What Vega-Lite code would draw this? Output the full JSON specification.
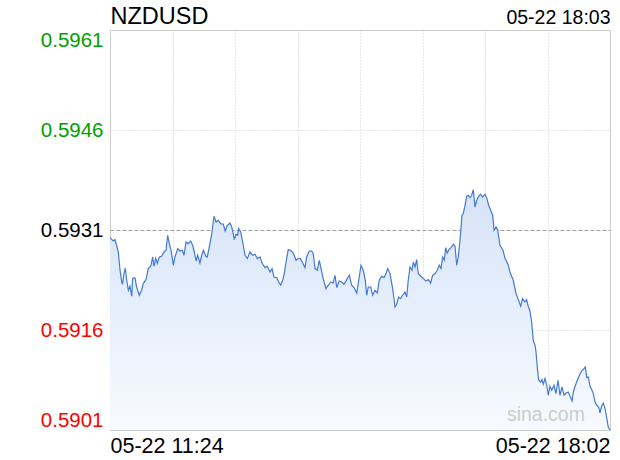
{
  "$schema": "https://vega.github.io/schema/vega-lite/v6.json",
  "width": 500,
  "height": 400,
  "autosize": "none",
  "padding": {"left": 110, "top": 30, "right": 10, "bottom": 30},
  "background": "white",
  "config": {
    "font": "Liberation Sans",
    "view": {"stroke": "#cccccc", "strokeWidth": 1}
  },
  "data": {
    "values": [
      {"t": 0, "p": 0.592986}, {"t": 2.6, "p": 0.592935}, {"t": 3.9, "p": 0.592956}, {"t": 5.3, "p": 0.592871},
      {"t": 6.6, "p": 0.59277}, {"t": 8.0, "p": 0.592496}, {"t": 9.3, "p": 0.59232}, {"t": 10.0, "p": 0.592286},
      {"t": 11.1, "p": 0.592451}, {"t": 12.2, "p": 0.592526}, {"t": 13.3, "p": 0.592346}, {"t": 14.6, "p": 0.592196},
      {"t": 15.9, "p": 0.592256}, {"t": 17.3, "p": 0.592106}, {"t": 18.0, "p": 0.592376}, {"t": 19.9, "p": 0.59238},
      {"t": 21.2, "p": 0.592245}, {"t": 23.3, "p": 0.592121}, {"t": 25.2, "p": 0.592196}, {"t": 26.5, "p": 0.592296},
      {"t": 28.7, "p": 0.592361}, {"t": 30.5, "p": 0.592526}, {"t": 32.4, "p": 0.592556}, {"t": 34.0, "p": 0.592695},
      {"t": 35.0, "p": 0.592556}, {"t": 36.4, "p": 0.592676}, {"t": 37.7, "p": 0.592601}, {"t": 39.2, "p": 0.592691},
      {"t": 41.1, "p": 0.592706}, {"t": 43.0, "p": 0.59277}, {"t": 44.6, "p": 0.592796}, {"t": 45.9, "p": 0.593021},
      {"t": 47.2, "p": 0.592896}, {"t": 48.6, "p": 0.592796}, {"t": 50.4, "p": 0.592571}, {"t": 51.7, "p": 0.592695},
      {"t": 53.9, "p": 0.592821}, {"t": 55.7, "p": 0.592785}, {"t": 57.6, "p": 0.592796}, {"t": 58.9, "p": 0.592721},
      {"t": 60.5, "p": 0.59292}, {"t": 62.3, "p": 0.592896}, {"t": 64.2, "p": 0.592935}, {"t": 65.8, "p": 0.592871},
      {"t": 67.1, "p": 0.59277}, {"t": 68.5, "p": 0.592635}, {"t": 69.8, "p": 0.592721}, {"t": 71.6, "p": 0.592605},
      {"t": 73.0, "p": 0.592721}, {"t": 74.3, "p": 0.592796}, {"t": 76.4, "p": 0.592706}, {"t": 77.4, "p": 0.592695},
      {"t": 79.6, "p": 0.592896}, {"t": 81.0, "p": 0.593046}, {"t": 82.8, "p": 0.593306}, {"t": 84.4, "p": 0.59322},
      {"t": 86.2, "p": 0.593246}, {"t": 88.1, "p": 0.593196}, {"t": 90.2, "p": 0.593186}, {"t": 91.7, "p": 0.593085},
      {"t": 93.4, "p": 0.593171}, {"t": 95.5, "p": 0.593205}, {"t": 96.9, "p": 0.593145}, {"t": 98.1, "p": 0.593046},
      {"t": 98.9, "p": 0.592956}, {"t": 100.3, "p": 0.593036}, {"t": 101.6, "p": 0.593021}, {"t": 102.4, "p": 0.593121},
      {"t": 104.0, "p": 0.59307}, {"t": 105.6, "p": 0.59292}, {"t": 107.5, "p": 0.592721}, {"t": 109.3, "p": 0.592671},
      {"t": 111.4, "p": 0.59277}, {"t": 113.6, "p": 0.592721}, {"t": 115.4, "p": 0.592736}, {"t": 117.3, "p": 0.592671},
      {"t": 119.4, "p": 0.592695}, {"t": 121.2, "p": 0.592596}, {"t": 123.4, "p": 0.592536}, {"t": 125.2, "p": 0.592556},
      {"t": 127.4, "p": 0.59247}, {"t": 129.0, "p": 0.592521}, {"t": 130.5, "p": 0.592395}, {"t": 132.7, "p": 0.592386},
      {"t": 134.3, "p": 0.59232}, {"t": 135.9, "p": 0.592271}, {"t": 137.5, "p": 0.592346}, {"t": 138.7, "p": 0.592446},
      {"t": 140.1, "p": 0.59262}, {"t": 141.9, "p": 0.592806}, {"t": 143.8, "p": 0.592796}, {"t": 145.9, "p": 0.592755},
      {"t": 148.1, "p": 0.592646}, {"t": 149.9, "p": 0.592671}, {"t": 151.2, "p": 0.592676}, {"t": 153.4, "p": 0.592605},
      {"t": 155.2, "p": 0.592536}, {"t": 156.5, "p": 0.592695}, {"t": 158.6, "p": 0.592785}, {"t": 160.5, "p": 0.592785},
      {"t": 161.8, "p": 0.592746}, {"t": 163.2, "p": 0.592521}, {"t": 165.0, "p": 0.592496}, {"t": 166.6, "p": 0.592646},
      {"t": 167.6, "p": 0.592556}, {"t": 169.7, "p": 0.592371}, {"t": 171.9, "p": 0.592221}, {"t": 173.8, "p": 0.592271},
      {"t": 175.7, "p": 0.59232}, {"t": 177.7, "p": 0.592305}, {"t": 179.1, "p": 0.592421}, {"t": 180.5, "p": 0.592236},
      {"t": 182.5, "p": 0.592335}, {"t": 184.4, "p": 0.59232}, {"t": 186.3, "p": 0.592286}, {"t": 188.4, "p": 0.592356},
      {"t": 190.5, "p": 0.592421}, {"t": 192.4, "p": 0.592271}, {"t": 194.2, "p": 0.592236}, {"t": 196.4, "p": 0.592155},
      {"t": 198.0, "p": 0.592346}, {"t": 199.8, "p": 0.592571}, {"t": 201.6, "p": 0.592496}, {"t": 203.2, "p": 0.592346},
      {"t": 204.3, "p": 0.592121}, {"t": 205.6, "p": 0.592245}, {"t": 207.5, "p": 0.592245}, {"t": 209.1, "p": 0.592121},
      {"t": 210.9, "p": 0.592196}, {"t": 212.8, "p": 0.592155}, {"t": 214.3, "p": 0.592346}, {"t": 216.2, "p": 0.592406},
      {"t": 218.1, "p": 0.592386}, {"t": 219.7, "p": 0.592446}, {"t": 221.0, "p": 0.592521}, {"t": 222.9, "p": 0.592446},
      {"t": 225.0, "p": 0.592221}, {"t": 226.9, "p": 0.591945}, {"t": 228.2, "p": 0.591986}, {"t": 229.7, "p": 0.592095},
      {"t": 231.3, "p": 0.592071}, {"t": 232.9, "p": 0.592121}, {"t": 234.8, "p": 0.59217}, {"t": 236.2, "p": 0.592095},
      {"t": 237.4, "p": 0.592346}, {"t": 238.8, "p": 0.592545}, {"t": 240.4, "p": 0.592496}, {"t": 241.4, "p": 0.59262},
      {"t": 242.8, "p": 0.592545}, {"t": 244.1, "p": 0.592656}, {"t": 245.4, "p": 0.592446}, {"t": 247.3, "p": 0.592406},
      {"t": 249.4, "p": 0.592371}, {"t": 251.5, "p": 0.592335}, {"t": 253.4, "p": 0.592356}, {"t": 255.2, "p": 0.592305},
      {"t": 256.8, "p": 0.592421}, {"t": 258.7, "p": 0.592446}, {"t": 260.5, "p": 0.592496}, {"t": 262.1, "p": 0.592571},
      {"t": 263.5, "p": 0.592521}, {"t": 264.8, "p": 0.592695}, {"t": 266.1, "p": 0.592646}, {"t": 267.2, "p": 0.592836},
      {"t": 268.4, "p": 0.592755}, {"t": 269.8, "p": 0.592806}, {"t": 271.4, "p": 0.592836}, {"t": 273.3, "p": 0.592886},
      {"t": 274.6, "p": 0.592856}, {"t": 276.0, "p": 0.592571}, {"t": 277.2, "p": 0.592695}, {"t": 278.6, "p": 0.592946},
      {"t": 280.2, "p": 0.593321}, {"t": 281.2, "p": 0.593346}, {"t": 282.6, "p": 0.593471}, {"t": 283.9, "p": 0.593606},
      {"t": 285.2, "p": 0.593621}, {"t": 286.6, "p": 0.593586}, {"t": 287.9, "p": 0.593621}, {"t": 289.2, "p": 0.593706},
      {"t": 290.5, "p": 0.593445}, {"t": 291.9, "p": 0.593546}, {"t": 293.4, "p": 0.593606}, {"t": 295.0, "p": 0.593636},
      {"t": 296.6, "p": 0.593595}, {"t": 298.5, "p": 0.593636}, {"t": 299.8, "p": 0.593586}, {"t": 301.4, "p": 0.593471},
      {"t": 303.0, "p": 0.593396}, {"t": 304.6, "p": 0.593321}, {"t": 305.7, "p": 0.593096}, {"t": 307.3, "p": 0.593145},
      {"t": 308.6, "p": 0.593096}, {"t": 310.4, "p": 0.592871}, {"t": 312.8, "p": 0.592796}, {"t": 314.4, "p": 0.592676},
      {"t": 316.8, "p": 0.592586}, {"t": 318.4, "p": 0.592466}, {"t": 321.0, "p": 0.592346}, {"t": 323.2, "p": 0.592146},
      {"t": 325.0, "p": 0.592056}, {"t": 326.9, "p": 0.591956}, {"t": 328.4, "p": 0.592071}, {"t": 330.3, "p": 0.59202},
      {"t": 331.6, "p": 0.592056}, {"t": 332.9, "p": 0.591956}, {"t": 334.3, "p": 0.591885}, {"t": 335.6, "p": 0.59172},
      {"t": 336.9, "p": 0.591446}, {"t": 338.3, "p": 0.591371}, {"t": 339.1, "p": 0.59127}, {"t": 340.1, "p": 0.591045},
      {"t": 341.2, "p": 0.590846}, {"t": 342.8, "p": 0.59082}, {"t": 343.8, "p": 0.590856}, {"t": 344.9, "p": 0.590786},
      {"t": 346.3, "p": 0.590871}, {"t": 347.6, "p": 0.590771}, {"t": 348.9, "p": 0.590621}, {"t": 350.2, "p": 0.590756},
      {"t": 351.6, "p": 0.590696}, {"t": 353.4, "p": 0.590771}, {"t": 355.0, "p": 0.590646}, {"t": 356.6, "p": 0.590846},
      {"t": 358.2, "p": 0.590621}, {"t": 359.8, "p": 0.590745}, {"t": 361.4, "p": 0.590621}, {"t": 363.0, "p": 0.590655},
      {"t": 364.8, "p": 0.59067}, {"t": 366.2, "p": 0.590606}, {"t": 367.8, "p": 0.590535}, {"t": 368.8, "p": 0.59067},
      {"t": 370.2, "p": 0.590756}, {"t": 372.0, "p": 0.590846}, {"t": 373.6, "p": 0.590921}, {"t": 375.5, "p": 0.590985},
      {"t": 377.3, "p": 0.591021}, {"t": 378.3, "p": 0.591045}, {"t": 379.5, "p": 0.590886}, {"t": 380.7, "p": 0.590895},
      {"t": 382.1, "p": 0.590756}, {"t": 383.4, "p": 0.590706}, {"t": 384.7, "p": 0.590646}, {"t": 386.1, "p": 0.59052},
      {"t": 387.4, "p": 0.590471}, {"t": 389.0, "p": 0.590445}, {"t": 390.0, "p": 0.590355}, {"t": 391.3, "p": 0.590455},
      {"t": 392.7, "p": 0.590505}, {"t": 394.0, "p": 0.590421}, {"t": 395.3, "p": 0.590295}, {"t": 396.6, "p": 0.590145},
      {"t": 398.0, "p": 0.5901}
    ]
  },
  "layer": [
    {
      "mark": {
        "type": "area",
        "color": {
          "gradient": "linear", "x1": 0, "y1": 0, "x2": 0, "y2": 1,
          "stops": [{"offset": 0, "color": "#d6e4f8"}, {"offset": 1, "color": "#f7faff"}]
        }
      },
      "encoding": {
        "x": {
          "field": "t", "type": "quantitative",
          "scale": {"domain": [0, 398], "nice": false, "zero": false},
          "axis": {
            "orient": "bottom",
            "values": [0, 49.75, 99.5, 149.25, 199, 248.75, 298.5, 348.25, 398],
            "labelExpr": "datum.value == 0 ? '05-22 11:24' : datum.value == 398 ? '05-22 18:02' : ''",
            "labelFlush": true, "labelOverlap": false,
            "labelFont": "Liberation Sans", "labelFontSize": 21.5, "labelColor": "#000000",
            "labelPadding": 5, "ticks": false, "tickSize": 0, "domain": false,
            "grid": true, "gridColor": "#d0d0d0", "gridDash": [1, 2], "gridWidth": 1,
            "title": null
          }
        },
        "y": {
          "field": "p", "type": "quantitative",
          "scale": {"domain": [0.5901, 0.5961], "nice": false, "zero": false},
          "axis": {
            "values": [0.5901, 0.5916, 0.5931, 0.5946, 0.5961],
            "format": ".4f",
            "labelFlush": true, "labelFlushOffset": 0, "labelOverlap": false,
            "labelFont": "Liberation Sans", "labelFontSize": 20.5,
            "labelColor": {
              "condition": [
                {"test": "datum.value > 0.59315", "value": "#00a000"},
                {"test": "datum.value < 0.59305", "value": "#ff0000"}
              ],
              "value": "#000000"
            },
            "labelPadding": 7, "ticks": false, "tickSize": 0, "domain": false,
            "grid": true, "gridWidth": 1,
            "gridColor": {"condition": {"test": "datum.value == 0.5931", "value": "#a0a0a0"}, "value": "#d0d0d0"},
            "gridDash": {"condition": {"test": "datum.value == 0.5931", "value": [4, 2]}, "value": [1, 2]},
            "title": null
          }
        },
        "y2": {"datum": 0.5901}
      }
    },
    {
      "mark": {"type": "line", "color": "#4479d4", "strokeWidth": 1.2},
      "encoding": {
        "x": {"field": "t", "type": "quantitative", "axis": null},
        "y": {"field": "p", "type": "quantitative"}
      }
    },
    {
      "data": {"values": [{"t": 347, "p": 0.59023, "label": "sina.com"}]},
      "mark": {"type": "text", "font": "Liberation Sans", "fontSize": 19.5, "color": "#cccccc", "align": "center", "baseline": "alphabetic"},
      "encoding": {
        "x": {
          "field": "t", "type": "quantitative",
          "axis": {
            "orient": "top", "values": [398],
            "labelExpr": "'05-22 18:03'",
            "labelAlign": "right", "labelBaseline": "alphabetic",
            "labelFont": "Liberation Sans", "labelFontSize": 19.5, "labelColor": "#000000",
            "labelPadding": 7, "ticks": false, "tickSize": 0, "domain": false, "grid": false,
            "title": "NZDUSD", "titleFont": "Liberation Sans", "titleFontSize": 23.5, "titleFontWeight": "normal",
            "titleColor": "#000000", "titleAnchor": "start", "titleAlign": "left", "titleBaseline": "alphabetic",
            "titleAngle": 0, "titleX": 0, "titleY": -6.5
          }
        },
        "y": {"field": "p", "type": "quantitative"},
        "text": {"field": "label"}
      }
    }
  ],
  "resolve": {"axis": {"x": "independent"}}
}
